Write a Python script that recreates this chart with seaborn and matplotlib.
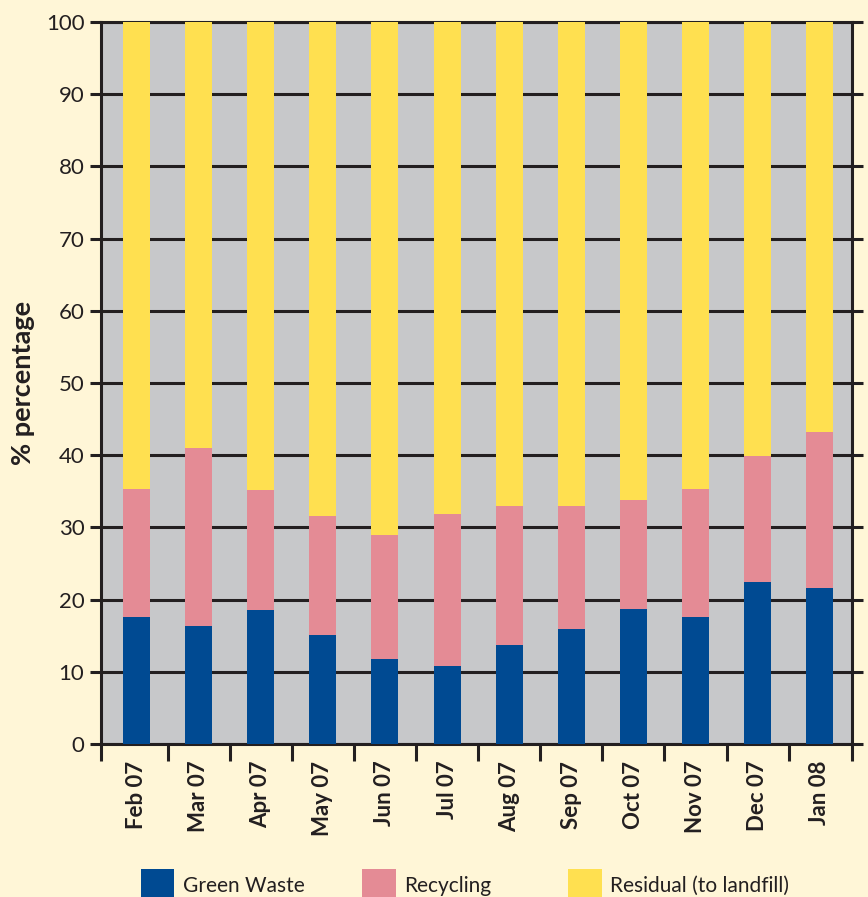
import numpy as np
import pandas as pd
import matplotlib.pyplot as plt
import seaborn as sns
from matplotlib.patches import Patch

# --- dados ---
meses = ["Feb 07", "Mar 07", "Apr 07", "May 07", "Jun 07", "Jul 07",
         "Aug 07", "Sep 07", "Oct 07", "Nov 07", "Dec 07", "Jan 08"]
green_waste = [17.6, 16.3, 18.6, 15.1, 11.8, 10.8, 13.7, 15.9, 18.7, 17.6, 22.4, 21.6]
recycling = [17.7, 24.7, 16.6, 16.5, 17.1, 21.1, 19.3, 17.1, 15.1, 17.7, 17.5, 21.6]
residual = [64.7, 59.0, 64.8, 68.4, 71.1, 68.1, 67.0, 67.0, 66.2, 64.7, 60.1, 56.8]
series = ["Green Waste", "Recycling", "Residual (to landfill)"]

cores = {"Green Waste": "#004a92", "Recycling": "#e48b95", "Residual (to landfill)": "#ffe050"}
fundo = "#fff6d7"
cinza = "#c7c8ca"
escuro = "#231f20"

df = pd.DataFrame({"Mes": meses, "Green Waste": green_waste,
                   "Recycling": recycling, "Residual (to landfill)": residual})
# acumulados para empilhar
df["topo_green"] = df["Green Waste"]
df["topo_rec"] = df["topo_green"] + df["Recycling"]
df["topo_res"] = df["topo_rec"] + df["Residual (to landfill)"]

sns.set_theme(style="white")
plt.rcParams["font.family"] = ["Lato", "DejaVu Sans"]

fig = plt.figure(figsize=(8.68, 8.97), dpi=100, facecolor=fundo)
ax = fig.add_axes([0.1164, 0.1706, 0.8652, 0.8049])
ax.set_facecolor(cinza)

largura = 0.435
for col, nome in [("topo_res", "Residual (to landfill)"), ("topo_rec", "Recycling"),
                  ("topo_green", "Green Waste")]:
    sns.barplot(data=df, x="Mes", y=col, order=meses, color=cores[nome],
                width=largura, saturation=1, ax=ax, zorder=3,
                edgecolor="none", linewidth=0)

ax.set_ylim(0, 100)
ax.set_xlim(-0.57, 11.52)
ax.set_yticks(np.arange(0, 101, 10))
ax.yaxis.grid(True, color=escuro, linewidth=2.2, zorder=1)
ax.set_axisbelow(True)

for s in ax.spines.values():
    s.set_visible(True)
    s.set_color(escuro)
    s.set_linewidth(2.2)

ax.tick_params(axis="y", which="major", left=True, right=True, direction="out",
               length=8, width=2.2, color=escuro, labelsize=16, labelcolor=escuro, pad=4)
ax.tick_params(axis="x", which="major", bottom=False, length=0, labelsize=16,
               labelcolor=escuro, pad=12)
ax.set_xticks(range(len(meses)))
ax.set_xticklabels(meses, rotation=90, fontweight="bold", ha="center", va="top")
ax.set_xticks(list(np.arange(0.5, 11, 1.0)) + [-0.57, 11.52], minor=True)
ax.tick_params(axis="x", which="minor", bottom=True, direction="out",
               length=12, width=2.2, color=escuro)

ax.set_xlabel("")
ax.set_ylabel("% percentage", fontsize=19.5, fontweight="bold", color=escuro, labelpad=8)

# legenda: uma entrada por posição, como no original
posicoes_legenda = [0.153, 0.408, 0.645]
for nome, px in zip(series, posicoes_legenda):
    leg = fig.legend([Patch(facecolor=cores[nome], edgecolor="none")], [nome],
                     loc="lower left", bbox_to_anchor=(px, -0.013), frameon=False,
                     fontsize=15, handlelength=1.6, handleheight=1.9,
                     handletextpad=0.4, borderaxespad=0, labelcolor=escuro)

fig.savefig("out.png", dpi=100, facecolor=fundo)
